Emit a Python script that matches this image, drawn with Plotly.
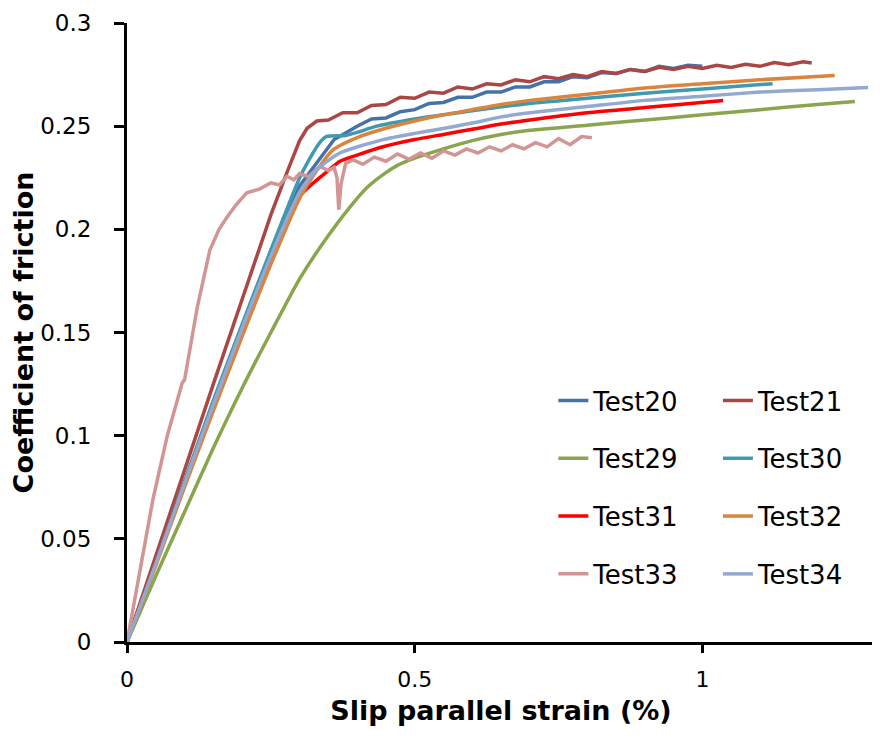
import plotly.graph_objects as go

# ---------------- data ----------------
test20_x = [0, 0.05, 0.10, 0.15, 0.20, 0.25, 0.30, 0.33, 0.36, 0.40, 0.425, 0.45, 0.475, 0.50, 0.525, 0.55,
            0.575, 0.60, 0.625, 0.65, 0.675, 0.70, 0.725, 0.75, 0.775, 0.80, 0.825, 0.85, 0.875, 0.90,
            0.925, 0.95, 0.975, 1.00]
test20_y = [0, 0.039, 0.078, 0.116, 0.152, 0.188, 0.221, 0.232, 0.2435, 0.2500, 0.2535, 0.2540, 0.2570, 0.2580,
            0.2610, 0.2615, 0.2640, 0.2640, 0.2665, 0.2665, 0.2690, 0.2690, 0.2715, 0.2715, 0.2740, 0.2735,
            0.2760, 0.2755, 0.2775, 0.2765, 0.2790, 0.2780, 0.2795, 0.2790]

test21_x = [0, 0.05, 0.10, 0.15, 0.20, 0.25, 0.28, 0.30, 0.313, 0.33, 0.35, 0.375, 0.40, 0.425, 0.45, 0.475,
            0.50, 0.525, 0.55, 0.575, 0.60, 0.625, 0.65, 0.675, 0.70, 0.725, 0.75, 0.775, 0.80, 0.825, 0.85,
            0.875, 0.90, 0.925, 0.95, 0.975, 1.00, 1.025, 1.05, 1.075, 1.10, 1.125, 1.15, 1.175, 1.19]
test21_y = [0, 0.042, 0.084, 0.125, 0.166, 0.207, 0.229, 0.243, 0.249, 0.2525, 0.2530, 0.2565, 0.2565, 0.2600,
            0.2605, 0.2640, 0.2635, 0.2665, 0.2660, 0.2690, 0.2680, 0.2705, 0.2700, 0.2725, 0.2715, 0.2740,
            0.2730, 0.2750, 0.2740, 0.2765, 0.2755, 0.2775, 0.2765, 0.2785, 0.2775, 0.2790, 0.2780, 0.2795,
            0.2785, 0.2800, 0.2790, 0.2808, 0.2798, 0.2812, 0.2806]

test29_x = [0, 0.05, 0.10, 0.15, 0.20, 0.25, 0.30, 0.35, 0.40, 0.42, 0.45, 0.47, 0.50, 0.55, 0.60, 0.65,
            0.70, 0.80, 0.90, 1.00, 1.10, 1.20, 1.265]
test29_y = [0, 0.032, 0.063, 0.094, 0.123, 0.150, 0.176, 0.197, 0.215, 0.221, 0.2275, 0.2310, 0.2345, 0.2390,
            0.2430, 0.2460, 0.2480, 0.2505, 0.2530, 0.2555, 0.2580, 0.2605, 0.2620]

test30_x = [0, 0.05, 0.10, 0.15, 0.20, 0.25, 0.30, 0.313, 0.335, 0.347, 0.38, 0.40, 0.434, 0.50, 0.55, 0.60,
            0.70, 0.80, 0.90, 1.00, 1.122]
test30_y = [0, 0.039, 0.078, 0.117, 0.154, 0.190, 0.225, 0.232, 0.242, 0.245, 0.2455, 0.247, 0.250, 0.2535,
            0.2555, 0.2575, 0.2610, 0.2635, 0.2660, 0.2680, 0.2706]

test31_x = [0, 0.10, 0.20, 0.30, 0.35, 0.37, 0.40, 0.445, 0.50, 0.55, 0.60, 0.65, 0.70, 0.80, 0.90, 0.96, 1.036]
test31_y = [0, 0.077, 0.151, 0.216, 0.2285, 0.233, 0.236, 0.240, 0.2435, 0.2460, 0.2485, 0.2510, 0.2530,
            0.2565, 0.2590, 0.2605, 0.2624]

test32_x = [0, 0.05, 0.10, 0.15, 0.20, 0.25, 0.30, 0.323, 0.358, 0.40, 0.45, 0.50, 0.55, 0.60, 0.65, 0.70,
            0.80, 0.90, 1.00, 1.10, 1.23]
test32_y = [0, 0.037, 0.075, 0.112, 0.148, 0.183, 0.215, 0.2257, 0.2385, 0.2445, 0.2490, 0.2525, 0.2555,
            0.2580, 0.2605, 0.2625, 0.2655, 0.2685, 0.2705, 0.2725, 0.2745]

test33_x = [0, 0.02, 0.045, 0.07, 0.096, 0.100, 0.105, 0.122, 0.144, 0.16, 0.174, 0.19, 0.208, 0.23, 0.25,
            0.265, 0.278, 0.29, 0.30, 0.315, 0.335, 0.35, 0.36, 0.365, 0.368, 0.372, 0.38, 0.393, 0.41,
            0.43, 0.45, 0.47, 0.49, 0.51, 0.53, 0.55, 0.57, 0.59, 0.61, 0.63, 0.65, 0.67, 0.69, 0.71,
            0.73, 0.75, 0.77, 0.79, 0.808]
test33_y = [0, 0.030, 0.069, 0.100, 0.1256, 0.127, 0.135, 0.162, 0.190, 0.200, 0.206, 0.212, 0.2177, 0.2195,
            0.2225, 0.2215, 0.2257, 0.2240, 0.2270, 0.2255, 0.2305, 0.2285, 0.2300, 0.2250, 0.2095, 0.2220,
            0.2320, 0.2337, 0.2315, 0.2350, 0.2330, 0.2365, 0.2340, 0.2370, 0.2345, 0.2380, 0.2360, 0.2390,
            0.2370, 0.2400, 0.2380, 0.2410, 0.2390, 0.2420, 0.2400, 0.2440, 0.2410, 0.2450, 0.2444]

test34_x = [0, 0.05, 0.10, 0.15, 0.20, 0.25, 0.30, 0.33, 0.37, 0.445, 0.50, 0.532, 0.60, 0.65, 0.70, 0.80,
            0.90, 1.00, 1.10, 1.20, 1.288]
test34_y = [0, 0.038, 0.077, 0.115, 0.152, 0.187, 0.218, 0.229, 0.237, 0.2435, 0.2465, 0.2480, 0.2515,
            0.2545, 0.2565, 0.2595, 0.2625, 0.2645, 0.2665, 0.2677, 0.2687]

names = ["Test20", "Test21", "Test29", "Test30", "Test31", "Test32", "Test33", "Test34"]
colors = ["#4572A7", "#AA4643", "#89A54E", "#4198AF", "#FF0000", "#DB843D", "#D29594", "#93A9CF"]
xs = [test20_x, test21_x, test29_x, test30_x, test31_x, test32_x, test33_x, test34_x]
ys = [test20_y, test21_y, test29_y, test30_y, test31_y, test32_y, test33_y, test34_y]
legend_of = ["legend", "legend2", "legend", "legend2", "legend", "legend2", "legend", "legend2"]
shapes = ["linear", "linear", "spline", "spline", "spline", "spline", "linear", "spline"]

x_ticks = [0, 0.5, 1]
x_ticklabels = ["0", "0.5", "1"]
y_ticks = [0, 0.05, 0.1, 0.15, 0.2, 0.25, 0.3]
y_ticklabels = ["0", "0.05", "0.1", "0.15", "0.2", "0.25", "0.3"]

# ---------------- figure ----------------
fig = go.Figure()
for n, c, x, y, lg, sh in zip(names, colors, xs, ys, legend_of, shapes):
    fig.add_trace(go.Scatter(x=x, y=y, mode="lines", name=n, legendgroup=n, legend=lg,
                             line=dict(color=c, width=3.5, shape=sh, smoothing=0.6)))

FONT = "DejaVu Sans"
legend_common = dict(font=dict(family=FONT, size=26, color="#000000"), bgcolor="rgba(0,0,0,0)",
                     traceorder="grouped", tracegroupgap=21, xanchor="left", yanchor="top",
                     itemwidth=30)

fig.update_layout(
    width=872, height=734,
    margin=dict(l=119, r=5, t=15, b=100),
    paper_bgcolor="white", plot_bgcolor="white",
    font=dict(family=FONT, color="#000000"),
    legend=dict(x=0.570, y=0.428, **legend_common),
    legend2=dict(x=0.790, y=0.428, **legend_common),
    xaxis=dict(range=[0, 1.3], tickvals=x_ticks, ticktext=x_ticklabels, showgrid=False, zeroline=False,
               showline=True, linecolor="#000000", linewidth=3, ticks="outside", ticklen=8, tickwidth=3,
               tickcolor="#000000", tickfont=dict(family=FONT, size=22), ticklabelstandoff=8,
               automargin=False,
               title=dict(text="<b>Slip parallel strain (%)</b>", font=dict(family=FONT, size=27),
                          standoff=10)),
    yaxis=dict(range=[0, 0.3], tickvals=y_ticks, ticktext=y_ticklabels, showgrid=False, zeroline=False,
               showline=True, linecolor="#000000", linewidth=3, ticks="outside", ticklen=10, tickwidth=3,
               tickcolor="#000000", tickfont=dict(family=FONT, size=23), ticklabelstandoff=18,
               automargin=False,
               title=dict(text="<b>Coefficient of friction</b>", font=dict(family=FONT, size=27),
                          standoff=4)),
)

fig.write_html("out.html")
